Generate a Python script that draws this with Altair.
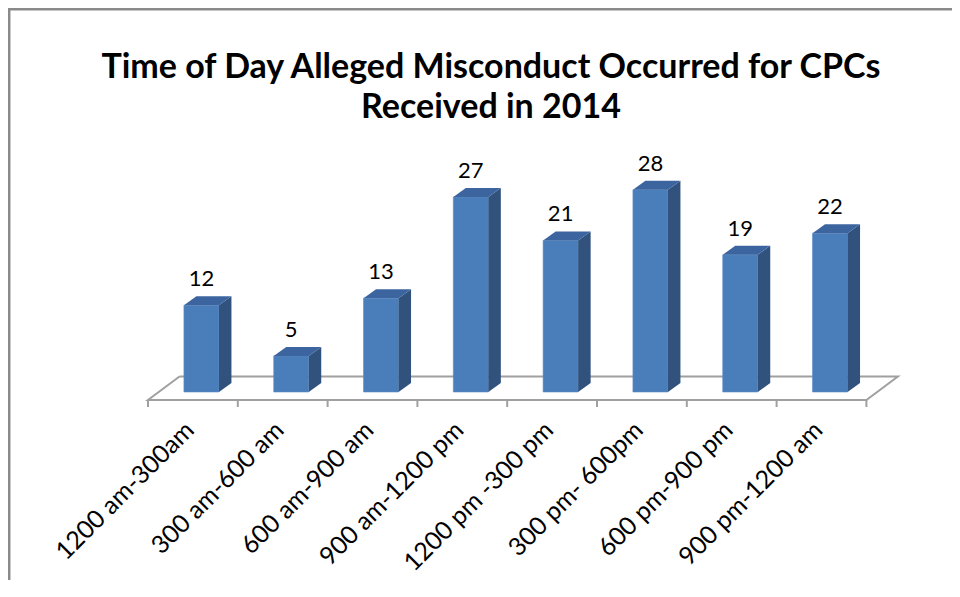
import altair as alt
import pandas as pd

# ---- data ----
CATEGORIES = ["1200 am-300am", "300 am-600 am", "600 am-900 am", "900 am-1200 pm",
              "1200 pm -300 pm", "300 pm- 600pm", "600 pm-900 pm", "900 pm-1200 am"]
VALUES = [12, 5, 13, 27, 21, 28, 19, 22]
TITLE_LINES = ["Time of Day Alleged Misconduct Occurred for CPCs", "Received in 2014"]

# ---- layout / style constants ----
W, H = 944, 572
PX_X = 89.8          # px per category
PX_Y = 7.22          # px per count
X0 = 140             # canvas x of first category edge
Y0 = 384             # canvas y of bar base (value 0)
FONT = "Lato"
FRONT, SIDE, TOP = "#4a7ebb", "#30527d", "#3c65a0"
GRID = "#a0a0a0"

xdom = [-X0 / PX_X, (W - X0) / PX_X]
ydom = [-(H - Y0) / PX_Y, Y0 / PX_Y]
xs = alt.Scale(domain=xdom, nice=False, zero=False)
ys = alt.Scale(domain=ydom, nice=False, zero=False)


def ux(px):
    return (px - X0) / PX_X


def vy(py):
    return (Y0 - py) / PX_Y


BAR_L, BAR_W = 0.40, 0.39           # bar front face within category (category units)
DX, DV = 12.5 / PX_X, 9 / PX_Y      # bar depth offsets
FL_DX, FL_FRONT, FL_BACK = 31.5 / PX_X, -8 / PX_Y, 15.5 / PX_Y   # floor
N = len(CATEGORIES)

front = pd.DataFrame({
    "cat": CATEGORIES,
    "l": [i + BAR_L for i in range(N)],
    "r": [i + BAR_L + BAR_W for i in range(N)],
    "v": VALUES,
    "c": [i + BAR_L + BAR_W / 2 for i in range(N)],
})
front["zero"] = 0.0

side_rows, top_rows = [], []
for i, (cat, v) in enumerate(zip(CATEGORIES, VALUES)):
    l = i + BAR_L
    r = l + BAR_W
    side_rows += [dict(cat=cat, x=r, y=v, y2=0.0), dict(cat=cat, x=r + DX, y=v + DV, y2=DV)]
    top_rows += [dict(cat=cat, x=l, y=v, y2=v), dict(cat=cat, x=l + DX, y=v + DV, y2=v),
                 dict(cat=cat, x=r, y=v + DV, y2=v), dict(cat=cat, x=r + DX, y=v + DV, y2=v + DV)]
side = pd.DataFrame(side_rows)
top = pd.DataFrame(top_rows)

floor = pd.DataFrame([
    dict(o=0, x=FL_DX, y=FL_BACK),
    dict(o=1, x=0.0, y=FL_FRONT),
    dict(o=2, x=float(N), y=FL_FRONT),
    dict(o=3, x=N + FL_DX, y=FL_BACK),
    dict(o=4, x=FL_DX, y=FL_BACK),
])
ticks = pd.DataFrame({"x": [float(i) for i in range(N + 1)]})
ticks["y"] = FL_FRONT
ticks["y2"] = FL_FRONT - 7 / PX_Y

labels = pd.DataFrame({"cat": CATEGORIES,
                       "x": [i + 0.5 - 3 / PX_X for i in range(N)]})
labels["y"] = FL_FRONT - 26 / PX_Y

# chart-area frame as one open path: left edge then top edge (runs past the picture)
frame = pd.DataFrame([
    dict(o=0, x=ux(1.2), y=vy(H + 10)),
    dict(o=1, x=ux(1.2), y=vy(1.2)),
    dict(o=2, x=ux(W + 10), y=vy(1.2)),
])

frame_layer = alt.Chart(frame).mark_line(color="#8a8a8a", strokeWidth=2.5, strokeJoin="miter").encode(
    x=alt.X("x:Q", scale=xs, axis=None),
    y=alt.Y("y:Q", scale=ys, axis=None),
    order="o:Q",
)
floor_layer = alt.Chart(floor).mark_line(color=GRID, strokeWidth=2).encode(
    x=alt.X("x:Q", scale=xs, axis=None),
    y=alt.Y("y:Q", scale=ys, axis=None),
    order="o:Q",
)
tick_layer = alt.Chart(ticks).mark_rule(color=GRID, strokeWidth=2).encode(
    x=alt.X("x:Q", scale=xs, axis=None),
    y=alt.Y("y:Q", scale=ys, axis=None),
    y2="y2:Q",
)
front_layer = alt.Chart(front).mark_rect(color=FRONT, stroke="#5b8cc6", strokeWidth=0.6).encode(
    x=alt.X("l:Q", scale=xs, axis=None),
    x2="r:Q",
    y=alt.Y("v:Q", scale=ys, axis=None),
    y2="zero:Q",
)
side_layer = alt.Chart(side).mark_area(color=SIDE, opacity=1).encode(
    x=alt.X("x:Q", scale=xs, axis=None),
    y=alt.Y("y:Q", scale=ys, axis=None, stack=None),
    y2="y2:Q",
    detail="cat:N",
)
top_layer = alt.Chart(top).mark_area(color=TOP, opacity=1).encode(
    x=alt.X("x:Q", scale=xs, axis=None),
    y=alt.Y("y:Q", scale=ys, axis=None, stack=None),
    y2="y2:Q",
    detail="cat:N",
)
value_labels = alt.Chart(front).mark_text(font=FONT, fontSize=22, color="#000000",
                                          baseline="alphabetic", dy=-19).encode(
    x=alt.X("c:Q", scale=xs, axis=None),
    y=alt.Y("v:Q", scale=ys, axis=None),
    text="v:Q",
)
cat_labels = alt.Chart(labels).mark_text(font=FONT, fontSize=25, color="#000000",
                                         angle=315, align="right", baseline="middle").encode(
    x=alt.X("x:Q", scale=xs, axis=None),
    y=alt.Y("y:Q", scale=ys, axis=None),
    text="cat:N",
)

one = pd.DataFrame({"k": [0]})
title1 = alt.Chart(one).mark_text(font=FONT, fontSize=34, fontWeight="bold", color="#000000",
                                  align="center", baseline="alphabetic").encode(
    x=alt.value(483), y=alt.value(70), text=alt.value(TITLE_LINES[0]))
title2 = alt.Chart(one).mark_text(font=FONT, fontSize=34, fontWeight="bold", color="#000000",
                                  align="center", baseline="alphabetic").encode(
    x=alt.value(483), y=alt.value(110), text=alt.value(TITLE_LINES[1]))

chart = alt.layer(
    frame_layer, floor_layer, tick_layer,
    front_layer, side_layer, top_layer, value_labels, cat_labels, title1, title2,
).properties(
    width=W, height=H,
    autosize=alt.AutoSizeParams(type="none"),
    padding=0,
    background="transparent",
).configure_view(stroke="transparent", strokeWidth=0)

chart.save("out.html", embed_options={"renderer": "svg", "actions": False})
